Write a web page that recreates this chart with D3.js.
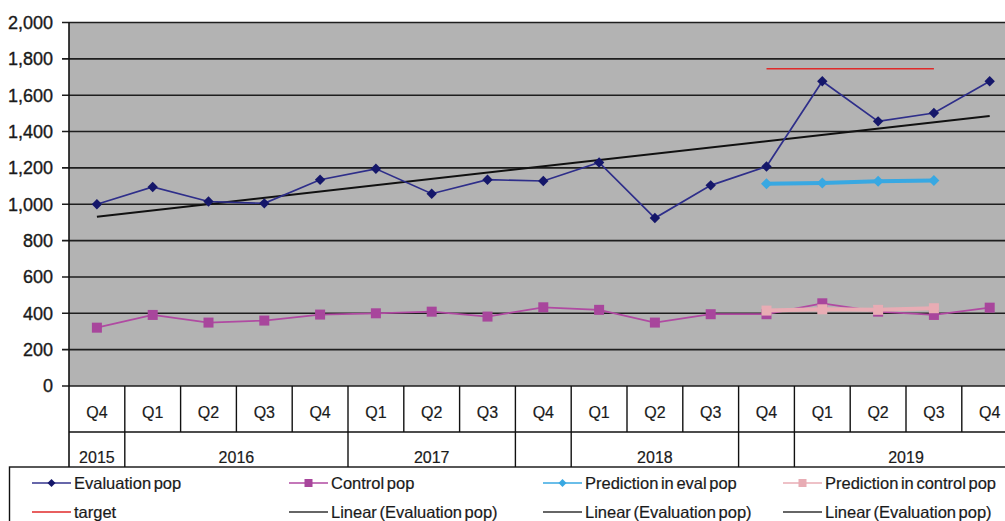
<!DOCTYPE html>
<html><head><meta charset="utf-8">
<script src="https://cdn.jsdelivr.net/npm/d3@7"></script>
<style>body{margin:0;background:#fff;}svg{display:block;font-family:"Liberation Sans",Arial,sans-serif;}</style>
</head><body>
<svg id="c" width="1005" height="521"></svg>
<script>
const quarters = ["Q4","Q1","Q2","Q3","Q4","Q1","Q2","Q3","Q4","Q1","Q2","Q3","Q4","Q1","Q2","Q3","Q4"];
// year groups: [label, startIndex, endIndex exclusive]
const yearGroups = [["2015",0,1],["2016",1,5],["2017",5,8],["",8,9],["2018",9,12],["",12,13],["2019",13,17]];
const evalPop = [1000,1095,1015,1005,1135,1195,1058,1135,1128,1230,924,1104,1208,1677,1456,1502,1677];
const controlPop = [321,391,349,360,393,400,409,382,433,419,349,395,395,455,409,391,431];
const predEval = [null,null,null,null,null,null,null,null,null,null,null,null,1113,1117,1127,1131,null];
const predControl = [null,null,null,null,null,null,null,null,null,null,null,null,415,422,419,428,null];
const target = [null,null,null,null,null,null,null,null,null,null,null,null,1745,1745,1745,1745,null];
const yTicks = [0,200,400,600,800,1000,1200,1400,1600,1800,2000];

const svg = d3.select("#c");
const L = 69, R = 1017.6, T = 22.5, B = 386;
const x = d3.scaleBand().domain(d3.range(quarters.length)).range([L, R]).padding(0);
const cx = i => x(i) + x.bandwidth()/2;
const y = d3.scaleLinear().domain([0,2000]).range([B, T]);

// plot background
svg.append("rect").attr("x",L).attr("y",T).attr("width",R-L).attr("height",B-T).attr("fill","#b3b3b3");

// gridlines
svg.append("g").selectAll("line").data(yTicks).join("line")
  .attr("x1",L-7).attr("x2",R).attr("y1",d=>y(d)).attr("y2",d=>y(d))
  .attr("stroke","#1e1e1e").attr("stroke-width",1.6);

// y labels
svg.append("g").selectAll("text").data(yTicks).join("text")
  .attr("x",53).attr("y",d=>y(d)).attr("dy","0.36em").attr("text-anchor","end")
  .attr("font-size",18).attr("fill","#1a1a1a").attr("stroke","#1a1a1a").attr("stroke-width",0.35)
  .text(d=>d3.format(",")(d));

// axis vertical line
svg.append("line").attr("x1",L).attr("x2",L).attr("y1",T).attr("y2",467).attr("stroke","#111").attr("stroke-width",1.6);

// category grid
const rowQ = 432, rowY = 467;
svg.append("line").attr("x1",L).attr("x2",R).attr("y1",rowQ).attr("y2",rowQ).attr("stroke","#111").attr("stroke-width",1.4);
svg.append("g").selectAll("line").data(d3.range(1,quarters.length+1)).join("line")
  .attr("x1",i=>x(i-1)+x.bandwidth()).attr("x2",i=>x(i-1)+x.bandwidth()).attr("y1",B).attr("y2",rowQ)
  .attr("stroke","#111").attr("stroke-width",1.4);
svg.append("g").selectAll("text").data(quarters).join("text")
  .attr("x",(d,i)=>cx(i)).attr("y",412).attr("dy","0.36em").attr("text-anchor","middle")
  .attr("font-size",16).attr("fill","#1a1a1a").attr("stroke","#1a1a1a").attr("stroke-width",0.2).text(d=>d);
svg.append("g").selectAll("line").data(yearGroups).join("line")
  .attr("x1",d=>x(d[2]-1)+x.bandwidth()).attr("x2",d=>x(d[2]-1)+x.bandwidth()).attr("y1",rowQ).attr("y2",rowY)
  .attr("stroke","#111").attr("stroke-width",1.4);
svg.append("g").selectAll("text").data(yearGroups).join("text")
  .attr("x",d=>(x(d[1]) + x(d[2]-1)+x.bandwidth())/2).attr("y",457).attr("dy","0.36em").attr("text-anchor","middle")
  .attr("font-size",16).attr("fill","#1a1a1a").attr("stroke","#1a1a1a").attr("stroke-width",0.2).text(d=>d[0]);

// trend line (linear regression of evalPop)
const n = evalPop.length, mx = d3.mean(d3.range(n)), my = d3.mean(evalPop);
const slope = d3.sum(d3.range(n), i=>(i-mx)*(evalPop[i]-my)) / d3.sum(d3.range(n), i=>(i-mx)*(i-mx));
const icpt = my - slope*mx;
svg.append("line").attr("x1",cx(0)).attr("x2",cx(n-1)).attr("y1",y(icpt)).attr("y2",y(icpt+slope*(n-1)))
  .attr("stroke","#111").attr("stroke-width",2);

const line = d3.line().defined(d=>d[1]!=null).x(d=>cx(d[0])).y(d=>y(d[1]));
const pts = arr => arr.map((v,i)=>[i,v]);
const diamond = (g, data, s, fill) => g.append("g").selectAll("path").data(data.filter(d=>d[1]!=null)).join("path")
  .attr("d",`M0,${-s}L${s},0L0,${s}L${-s},0Z`).attr("transform",d=>`translate(${cx(d[0])},${y(d[1])})`).attr("fill",fill);
const square = (g, data, s, fill) => g.append("g").selectAll("rect").data(data.filter(d=>d[1]!=null)).join("rect")
  .attr("x",d=>cx(d[0])-s).attr("y",d=>y(d[1])-s).attr("width",2*s).attr("height",2*s).attr("fill",fill);

// control pop
svg.append("path").attr("d",line(pts(controlPop))).attr("fill","none").attr("stroke","#b04aa2").attr("stroke-width",1.8);
square(svg, pts(controlPop), 5, "#a8469c");
// prediction control
svg.append("path").attr("d",line(pts(predControl))).attr("fill","none").attr("stroke","#e8acb4").attr("stroke-width",4);
square(svg, pts(predControl), 5, "#e8acb4");
// eval pop
svg.append("path").attr("d",line(pts(evalPop))).attr("fill","none").attr("stroke","#2e2e8a").attr("stroke-width",1.7);
diamond(svg, pts(evalPop), 5.2, "#15176a");
// prediction eval
svg.append("path").attr("d",line(pts(predEval))).attr("fill","none").attr("stroke","#38a8e2").attr("stroke-width",4);
diamond(svg, pts(predEval), 5.5, "#38a8e2");
// target
svg.append("path").attr("d",line(pts(target))).attr("fill","none").attr("stroke","#e02a2a").attr("stroke-width",1.5);

// legend
svg.append("rect").attr("x",9.5).attr("y",467).attr("width",1100).attr("height",100).attr("fill","#fff").attr("stroke","#111").attr("stroke-width",1.4);
const legend = [
  {t:"Evaluation pop", c:"#34348e", m:"d", mc:"#15176a", w:1.5, x:32, y:483},
  {t:"Control pop", c:"#b04aa2", m:"s", mc:"#a8469c", w:1.5, x:289, y:483},
  {t:"Prediction in eval pop", c:"#38a8e2", m:"d", mc:"#38a8e2", w:1.5, x:543, y:483},
  {t:"Prediction in control pop", c:"#e8acb4", m:"s", mc:"#e8acb4", w:1.5, x:783, y:483},
  {t:"target", c:"#e02a2a", m:null, w:1.5, x:32, y:512},
  {t:"Linear (Evaluation pop)", c:"#333", m:null, w:1.5, x:289, y:512},
  {t:"Linear (Evaluation pop)", c:"#333", m:null, w:1.5, x:543, y:512},
  {t:"Linear (Evaluation pop)", c:"#333", m:null, w:1.5, x:783, y:512}
];
const lg = svg.append("g").selectAll("g").data(legend).join("g").attr("transform",d=>`translate(${d.x},${d.y})`);
lg.append("line").attr("x1",0).attr("x2",39).attr("stroke",d=>d.c).attr("stroke-width",d=>d.w);
lg.filter(d=>d.m==="d").append("path").attr("d","M0,-4L4,0L0,4L-4,0Z").attr("transform","translate(19.5,0)").attr("fill",d=>d.mc);
lg.filter(d=>d.m==="s").append("rect").attr("x",15.5).attr("y",-4).attr("width",8).attr("height",8).attr("fill",d=>d.mc);
lg.append("text").attr("x",42).attr("dy","0.36em").attr("font-size",16.5).attr("fill","#1a1a1a")
  .attr("stroke","#1a1a1a").attr("stroke-width",0.2).attr("word-spacing","-2").text(d=>d.t);
</script>
</body></html>
